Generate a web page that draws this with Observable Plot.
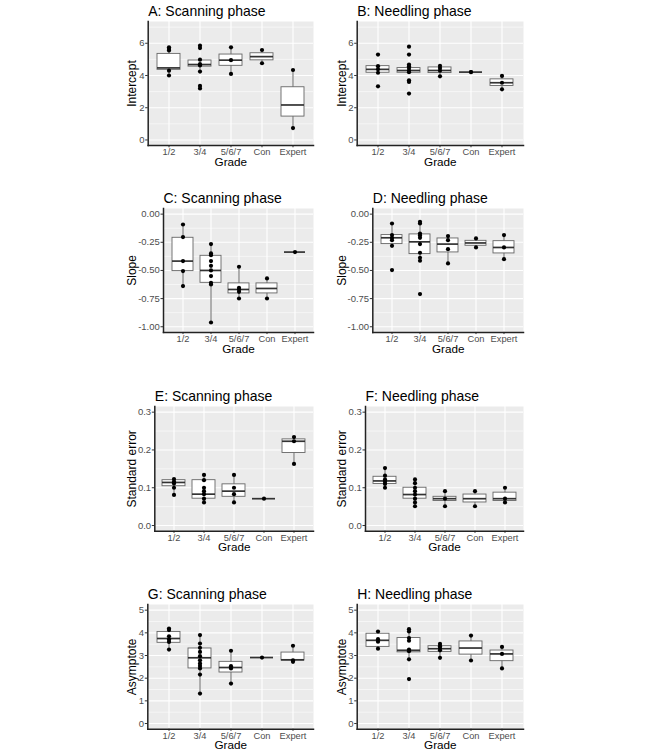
<!DOCTYPE html>
<html>
<head>
<meta charset="utf-8">
<script src="https://cdn.jsdelivr.net/npm/d3@7"></script>
<script src="https://cdn.jsdelivr.net/npm/@observablehq/plot@0.6"></script>
<style>
  html, body { margin: 0; padding: 0; background: #ffffff; }
  #chart { position: relative; width: 666px; height: 756px; background: #ffffff; overflow: hidden; }
  #chart > svg { position: absolute; }
</style>
</head>
<body>
<div id="chart"></div>
<script>
// ---------------- data ----------------
const grades = ["1/2", "3/4", "5/6/7", "Con", "Expert"];

// A: Scanning phase – Intercept
const scanInterceptPoints = [
  [5.75, 5.65, 5.55, 4.3, 4.0],
  [5.85, 5.7, 4.98, 4.7, 4.62, 4.24, 3.35, 3.2],
  [5.75, 4.95, 4.1],
  [5.58, 4.76],
  [4.34, 0.74]
];
const scanInterceptBoxes = [ // lo, q1, median, q3, hi
  [4.0, 4.35, 4.47, 5.34, 5.75],
  [4.24, 4.55, 4.68, 4.93, 4.98],
  [4.1, 4.6, 4.95, 5.3, 5.75],
  [4.76, 4.94, 5.17, 5.38, 5.58],
  [0.74, 1.45, 2.17, 3.27, 4.34]
];

// B: Needling phase – Intercept
const needleInterceptPoints = [
  [5.3, 4.58, 4.38, 4.17, 3.33],
  [5.79, 5.3, 4.68, 4.58, 4.46, 4.31, 4.2, 3.7, 3.6, 2.88],
  [4.6, 4.46, 4.3, 3.95],
  [4.21, 4.21],
  [3.97, 3.55, 3.14]
];
const needleInterceptBoxes = [
  [4.17, 4.17, 4.38, 4.58, 4.58],
  [4.17, 4.17, 4.31, 4.46, 4.68],
  [3.95, 4.15, 4.31, 4.5, 4.6],
  [4.21, 4.21, 4.21, 4.21, 4.21],
  [3.14, 3.35, 3.55, 3.76, 3.97]
];

// C: Scanning phase – Slope
const scanSlopePoints = [
  [-0.092, -0.204, -0.417, -0.506, -0.639],
  [-0.266, -0.349, -0.364, -0.417, -0.459, -0.5, -0.55, -0.61, -0.624, -0.962],
  [-0.467, -0.654, -0.669, -0.69, -0.749],
  [-0.571, -0.749],
  [-0.337]
];
const scanSlopeBoxes = [
  [-0.639, -0.506, -0.417, -0.21, -0.092],
  [-0.962, -0.61, -0.5, -0.37, -0.266],
  [-0.749, -0.704, -0.669, -0.615, -0.467],
  [-0.749, -0.704, -0.66, -0.615, -0.571],
  [-0.337, -0.337, -0.337, -0.337, -0.337]
];

// D: Needling phase – Slope
const needleSlopePoints = [
  [-0.083, -0.186, -0.21, -0.231, -0.281, -0.497],
  [-0.068, -0.083, -0.172, -0.19, -0.21, -0.266, -0.343, -0.388, -0.414, -0.71],
  [-0.195, -0.231, -0.311, -0.438],
  [-0.216, -0.296],
  [-0.186, -0.296, -0.4]
];
const needleSlopeBoxes = [
  [-0.281, -0.266, -0.21, -0.186, -0.083],
  [-0.414, -0.355, -0.246, -0.18, -0.068],
  [-0.438, -0.34, -0.266, -0.216, -0.195],
  [-0.296, -0.281, -0.256, -0.237, -0.216],
  [-0.4, -0.349, -0.296, -0.24, -0.186]
];

// E: Scanning phase – Standard error
const scanErrorPoints = [
  [0.123, 0.116, 0.111, 0.1, 0.081],
  [0.134, 0.12, 0.1, 0.091, 0.083, 0.071, 0.061],
  [0.134, 0.1, 0.083, 0.061],
  [0.071],
  [0.234, 0.223, 0.163]
];
const scanErrorBoxes = [
  [0.081, 0.104, 0.114, 0.12, 0.123],
  [0.061, 0.071, 0.083, 0.12, 0.134],
  [0.061, 0.076, 0.091, 0.109, 0.134],
  [0.071, 0.071, 0.071, 0.071, 0.071],
  [0.163, 0.192, 0.223, 0.228, 0.234]
];

// F: Needling phase – Standard error
const needleErrorPoints = [
  [0.152, 0.132, 0.122, 0.116, 0.11, 0.1],
  [0.122, 0.112, 0.1, 0.091, 0.082, 0.071, 0.061, 0.051],
  [0.091, 0.071, 0.051],
  [0.091, 0.051],
  [0.1, 0.071, 0.061]
];
const needleErrorBoxes = [
  [0.1, 0.11, 0.118, 0.129, 0.152],
  [0.051, 0.071, 0.082, 0.1, 0.122],
  [0.051, 0.065, 0.071, 0.076, 0.091],
  [0.051, 0.061, 0.071, 0.082, 0.091],
  [0.061, 0.065, 0.071, 0.087, 0.1]
];

// G: Scanning phase – Asymptote
const scanAsymptotePoints = [
  [4.19, 4.12, 3.85, 3.71, 3.6, 3.26],
  [3.9, 3.53, 3.34, 3.16, 2.97, 2.79, 2.65, 2.54, 2.43, 2.16, 1.32],
  [3.21, 2.53, 2.43, 1.76],
  [2.91],
  [3.43, 2.79, 2.72]
];
const scanAsymptoteBoxes = [
  [3.26, 3.56, 3.75, 4.04, 4.19],
  [1.32, 2.43, 2.9, 3.31, 3.9],
  [1.76, 2.25, 2.47, 2.72, 3.21],
  [2.91, 2.91, 2.91, 2.91, 2.91],
  [2.72, 2.78, 2.81, 3.13, 3.43]
];

// H: Needling phase – Asymptote
const needleAsymptotePoints = [
  [4.06, 3.72, 3.61, 3.3],
  [4.16, 4.06, 3.77, 3.65, 3.26, 3.19, 2.83, 1.96],
  [3.51, 3.41, 3.33, 3.23, 2.9],
  [3.88, 2.78],
  [3.38, 3.07, 2.43]
];
const needleAsymptoteBoxes = [
  [3.3, 3.38, 3.67, 3.96, 4.06],
  [2.83, 3.14, 3.23, 3.77, 4.16],
  [2.9, 3.16, 3.3, 3.41, 3.51],
  [2.78, 3.04, 3.33, 3.62, 3.88],
  [2.43, 2.75, 3.07, 3.22, 3.38]
];

// y axis definitions per measure
const interceptTicks = [0, 2, 4, 6];
const slopeTicks = [-1, -0.75, -0.5, -0.25, 0];
const errorTicks = [0, 0.1, 0.2, 0.3];
const asymptoteTicks = [0, 1, 2, 3, 4, 5];

const panels = [
  {title: "A: Scanning phase", ylab: "Intercept", row: 0, col: 0, pts: scanInterceptPoints, box: scanInterceptBoxes},
  {title: "B: Needling phase", ylab: "Intercept", row: 0, col: 1, pts: needleInterceptPoints, box: needleInterceptBoxes},
  {title: "C: Scanning phase", ylab: "Slope", row: 1, col: 0, pts: scanSlopePoints, box: scanSlopeBoxes},
  {title: "D: Needling phase", ylab: "Slope", row: 1, col: 1, pts: needleSlopePoints, box: needleSlopeBoxes},
  {title: "E: Scanning phase", ylab: "Standard error", row: 2, col: 0, pts: scanErrorPoints, box: scanErrorBoxes},
  {title: "F: Needling phase", ylab: "Standard error", row: 2, col: 1, pts: needleErrorPoints, box: needleErrorBoxes},
  {title: "G: Scanning phase", ylab: "Asymptote", row: 3, col: 0, pts: scanAsymptotePoints, box: scanAsymptoteBoxes},
  {title: "H: Needling phase", ylab: "Asymptote", row: 3, col: 1, pts: needleAsymptotePoints, box: needleAsymptoteBoxes}
];

// ---------------- layout ----------------
const rows = [
  {top: 20.5, bottom: 144.6, lefts: [147.7, 356.7], domain: [-0.35, 7.35], ticks: interceptTicks, minor: [1, 3, 5, 7], fmt: d => String(d)},
  {top: 208.3, bottom: 332.2, lefts: [163, 372.3], domain: [-1.05, 0.05], ticks: slopeTicks, minor: [-0.875, -0.625, -0.375, -0.125], fmt: d => d.toFixed(2)},
  {top: 406, bottom: 530.7, lefts: [154.3, 365], domain: [-0.015, 0.315], ticks: errorTicks, minor: [0.05, 0.15, 0.25], fmt: d => d.toFixed(1)},
  {top: 604.3, bottom: 729, lefts: [147.3, 356.7], domain: [-0.25, 5.25], ticks: asymptoteTicks, minor: [0.5, 1.5, 2.5, 3.5, 4.5], fmt: d => String(d)}
];
const rights = [313, 523];
const ylabX = [131.7, 341.7];
const svgLefts = [110, 320];
const svgWidth = 220;
const mTop = 24, mBottom = 28;

const chart = document.getElementById("chart");

for (const p of panels) {
  const r = rows[p.row];
  const c = p.col;
  const pLeft = r.lefts[c];
  const marginLeft = pLeft - svgLefts[c];
  const marginRight = svgLefts[c] + svgWidth - rights[c];
  const height = (r.bottom - r.top) + mTop + mBottom;

  const boxes = grades.map((g, i) => ({grade: g, lo: p.box[i][0], q1: p.box[i][1], med: p.box[i][2], q3: p.box[i][3], hi: p.box[i][4]}));
  const points = grades.flatMap((g, i) => p.pts[i].map(v => ({grade: g, v})));

  const svg = Plot.plot({
    width: svgWidth,
    height,
    marginLeft,
    marginRight,
    marginTop: mTop,
    marginBottom: mBottom,
    style: {fontFamily: "'Liberation Sans', Arial, sans-serif", background: "transparent", overflow: "visible"},
    x: {type: "band", domain: grades, paddingInner: 0.25, paddingOuter: 0.225, axis: null},
    y: {domain: r.domain, axis: null},
    marks: [
      Plot.frame({fill: "#EBEBEB", stroke: null}),
      Plot.gridY(r.minor, {stroke: "#ffffff", strokeOpacity: 1, strokeWidth: 0.55}),
      Plot.gridY(r.ticks, {stroke: "#ffffff", strokeOpacity: 1, strokeWidth: 1.1}),
      Plot.gridX({stroke: "#ffffff", strokeOpacity: 1, strokeWidth: 1.1}),
      Plot.ruleX(boxes, {x: "grade", y1: "lo", y2: "hi", stroke: "#555555", strokeWidth: 0.9}),
      Plot.barY(boxes, {x: "grade", y1: "q1", y2: "q3", fill: "#ffffff", stroke: "#666666", strokeWidth: 0.9}),
      Plot.tickY(boxes, {x: "grade", y: "med", stroke: "#333333", strokeWidth: 1.7}),
      Plot.dot(points, {x: "grade", y: "v", r: 2.1, fill: "#000000", stroke: null}),
      Plot.axisY({ticks: r.ticks, tickFormat: r.fmt, tickSize: 2.5, tickPadding: 1.2, fontSize: 9.5, fill: "#4D4D4D", stroke: "#333333", label: null}),
      Plot.axisX({tickSize: 2.2, tickPadding: 0.8, fontSize: 9.3, fill: "#4D4D4D", stroke: "#333333", label: null}),
      Plot.frame({anchor: "left", stroke: "#222222", strokeWidth: 1.5}),
      Plot.frame({anchor: "bottom", stroke: "#222222", strokeWidth: 1.5}),
      Plot.text([p.title], {text: d => d, frameAnchor: "top-left", textAnchor: "start", lineAnchor: "middle", dy: -9.8, fontSize: 14, fill: "#000000"}),
      Plot.text(["Grade"], {text: d => d, frameAnchor: "bottom", lineAnchor: "middle", dy: 16.4, fontSize: 11.7, fill: "#000000"}),
      Plot.text([p.ylab], {text: d => d, frameAnchor: "left", textAnchor: "middle", lineAnchor: "middle", rotate: -90, dx: ylabX[c] - pLeft, fontSize: 12, fill: "#000000"})
    ]
  });
  svg.style.left = svgLefts[c] + "px";
  svg.style.top = (r.top - mTop) + "px";
  chart.appendChild(svg);
}
</script>
</body>
</html>
